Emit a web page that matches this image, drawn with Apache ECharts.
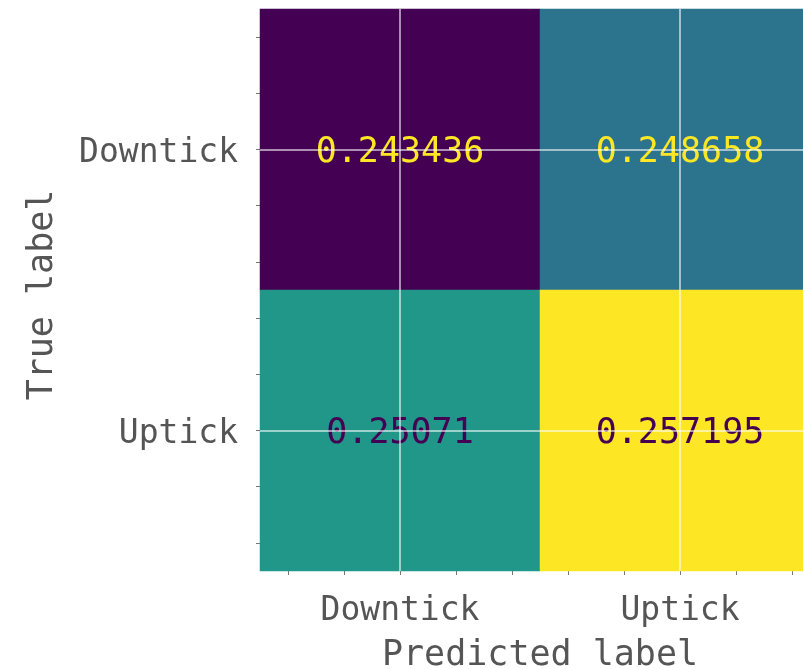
<!DOCTYPE html>
<html>
<head>
<meta charset="utf-8">
<script src="https://cdn.jsdelivr.net/npm/echarts@6/dist/echarts.min.js"></script>
<style>
  html, body { margin: 0; padding: 0; background: #ffffff; }
  #chart { width: 803px; height: 669px; }
</style>
</head>
<body>
<div id="chart"></div>
<script>
// Class names along each axis
const predictedLabels = ['Downtick', 'Uptick'];
const trueLabels = ['Downtick', 'Uptick'];

// Normalized confusion matrix, one array per true label (columns = predicted label)
const downtickRow = [0.243436, 0.248658];
const uptickRow = [0.25071, 0.257195];

// Minor tick positions in cell units (cell centres sit at 0 and 1)
const minorTickValues = [-0.4, -0.2, 0, 0.2, 0.4, 0.6, 0.8, 1, 1.2, 1.4];

// Viridis colour ramp
const viridis = ['#440154', '#482878', '#3e4989', '#31688e', '#26828e',
                 '#1f9e89', '#35b779', '#6ece58', '#b5de2b', '#fde725'];

const FONT = 'DejaVu Sans Mono';
const TEXT_GREY = '#555555';
const TICK_GREY = '#777777';

const matrix = [downtickRow, uptickRow];
const allValues = matrix.flat();
const vmin = Math.min(...allValues);
const vmax = Math.max(...allValues);
const threshold = (vmin + vmax) / 2;

// Heatmap cells: [predicted index, true index, value]; text colour flips at mid-range
const cells = [];
matrix.forEach((row, r) => {
  row.forEach((v, c) => {
    cells.push({
      value: [c, r, v],
      label: { color: v < threshold ? viridis[viridis.length - 1] : viridis[0] }
    });
  });
});

const chart = echarts.init(document.getElementById('chart'), null, { renderer: 'canvas' });

chart.setOption({
  animation: false,
  backgroundColor: '#ffffff',
  grid: {
    left: 260, top: 9, width: 560, height: 562,
    containLabel: false,
    outerBoundsMode: 'none'
  },
  xAxis: [
    {
      type: 'category',
      data: predictedLabels,
      position: 'bottom',
      axisLine: { show: false },
      axisTick: { show: true, alignWithLabel: true, length: 8, lineStyle: { color: TICK_GREY, width: 1 } },
      axisLabel: { fontFamily: FONT, fontSize: 33, color: TEXT_GREY, margin: 24 },
      splitLine: { show: false },
      name: 'Predicted label',
      nameLocation: 'middle',
      nameGap: 67,
      nameTextStyle: { fontFamily: FONT, fontSize: 35, color: TEXT_GREY }
    },
    {
      type: 'value',
      min: -0.5, max: 1.5,
      position: 'bottom',
      axisLine: { show: false },
      axisTick: { show: true, customValues: minorTickValues, length: 4, lineStyle: { color: TICK_GREY, width: 1 } },
      axisLabel: { show: false },
      splitLine: { show: false }
    }
  ],
  yAxis: [
    {
      type: 'category',
      data: trueLabels,
      inverse: true,
      position: 'left',
      axisLine: { show: false },
      axisTick: { show: true, alignWithLabel: true, length: 7, lineStyle: { color: TICK_GREY, width: 1 } },
      axisLabel: {
        fontFamily: FONT, fontSize: 33, color: TEXT_GREY, margin: 22,
        verticalAlign: 'top', lineHeight: 8
      },
      splitLine: { show: false },
      name: 'True label',
      nameLocation: 'middle',
      nameGap: 200,
      nameRotate: 90,
      nameTextStyle: { fontFamily: FONT, fontSize: 35, color: TEXT_GREY, padding: [0, 10, 0, 0] }
    },
    {
      type: 'value',
      min: -0.5, max: 1.5,
      inverse: true,
      position: 'left',
      axisLine: { show: false },
      axisTick: { show: true, customValues: minorTickValues, length: 4, lineStyle: { color: TICK_GREY, width: 1 } },
      axisLabel: { show: false },
      splitLine: { show: false }
    }
  ],
  visualMap: {
    show: false,
    type: 'continuous',
    min: vmin,
    max: vmax,
    dimension: 2,
    seriesIndex: 0,
    inRange: { color: viridis }
  },
  series: [
    {
      type: 'heatmap',
      xAxisIndex: 0,
      yAxisIndex: 0,
      data: cells,
      label: {
        show: true,
        fontFamily: FONT,
        fontSize: 35,
        offset: [0, 3],
        formatter: p => String(p.value[2])
      },
      emphasis: { disabled: true },
      markLine: {
        silent: true,
        symbol: 'none',
        animation: false,
        label: { show: false },
        lineStyle: { color: 'rgba(255,255,255,0.75)', width: 1.5, type: 'solid' },
        data: [
          ...predictedLabels.map(l => ({ xAxis: l })),
          ...trueLabels.map(l => ({ yAxis: l }))
        ]
      }
    }
  ]
});
</script>
</body>
</html>
